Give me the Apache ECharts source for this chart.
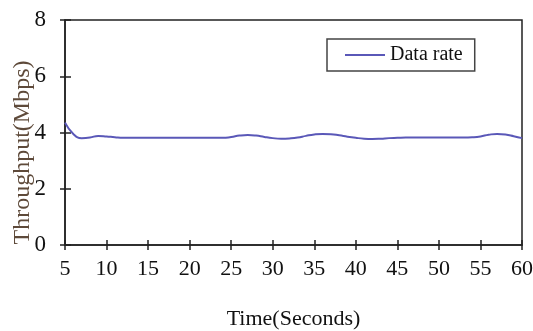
<!DOCTYPE html>
<html>
<head>
<meta charset="utf-8">
<script src="https://cdn.jsdelivr.net/npm/echarts@6/dist/echarts.min.js"></script>
<style>
  html, body { margin: 0; padding: 0; background: #fff; }
  #container { width: 533px; height: 331px; }
</style>
</head>
<body>
<div id="container"></div>
<script>
const container = document.getElementById('container');
const chartIns = echarts.init(container, undefined, { renderer: 'canvas' });

// time in seconds
const seconds = [5, 6, 7, 8, 9, 10, 11, 12, 13, 14, 15, 16, 17, 18, 19, 20,
  21, 22, 23, 24, 25, 26, 27, 28, 29, 30, 31, 32, 33, 34, 35, 36, 37, 38, 39, 40,
  41, 42, 43, 44, 45, 46, 47, 48, 49, 50, 51, 52, 53, 54, 55, 56, 57, 58, 59, 60];
// throughput in Mbps
const dataRate = [4.35, 3.95, 3.80, 3.82, 3.88, 3.86, 3.83, 3.81, 3.81, 3.81, 3.81, 3.81, 3.81, 3.81, 3.81, 3.81,
  3.81, 3.81, 3.81, 3.81, 3.84, 3.89, 3.91, 3.89, 3.84, 3.80, 3.78, 3.79, 3.82, 3.88, 3.93, 3.95, 3.94, 3.90, 3.85, 3.81,
  3.78, 3.77, 3.78, 3.80, 3.81, 3.82, 3.82, 3.82, 3.82, 3.82, 3.82, 3.82, 3.82, 3.83, 3.86, 3.92, 3.95, 3.93, 3.87, 3.80];
const xTicks = { min: 5, max: 60, interval: 5 };
const yTicks = { min: 0, max: 8, interval: 2 };

const FONT = 'Liberation Serif';
const lineData = seconds.map((s, i) => [s, dataRate[i]]);

const option = {
  animation: false,
  backgroundColor: '#fff',
  grid: {
    left: 65, right: 11, top: 20, bottom: 86,
    outerBoundsMode: 'none',
    containLabel: false,
    show: true, borderColor: '#222', borderWidth: 1.5
  },
  legend: {
    left: 327, top: 39,
    padding: [6, 12, 6, 18],
    borderColor: '#444', borderWidth: 1.5,
    itemWidth: 40, itemHeight: 2,
    textStyle: { fontFamily: FONT, fontSize: 20, color: '#111' },
    data: [{ name: 'Data rate', icon: 'rect' }]
  },
  xAxis: [{
    type: 'value',
    min: xTicks.min, max: xTicks.max, interval: xTicks.interval,
    name: 'Time(Seconds)',
    nameLocation: 'middle',
    nameGap: 63,
    nameTextStyle: { fontFamily: FONT, fontSize: 22, color: '#111' },
    axisLine: { show: true, lineStyle: { color: '#222', width: 1.5 } },
    axisTick: { show: true, length: 5, lineStyle: { color: '#222', width: 1.5 } },
    axisLabel: { fontFamily: FONT, fontSize: 22, color: '#111', margin: 13 },
    splitLine: { show: false }
  }, {
    type: 'value', position: 'bottom',
    min: xTicks.min, max: xTicks.max, interval: xTicks.interval,
    axisLine: { show: false },
    axisTick: { show: true, inside: true, length: 5, lineStyle: { color: '#222', width: 1.5 } },
    axisLabel: { show: false },
    splitLine: { show: false }
  }],
  yAxis: [{
    type: 'value',
    min: yTicks.min, max: yTicks.max, interval: yTicks.interval,
    name: 'Throughput(Mbps)',
    nameLocation: 'middle',
    nameGap: 30,
    nameMoveOverlap: false,
    nameTextStyle: { fontFamily: FONT, fontSize: 24, color: '#5e4a3a', padding: [0, 40, 0, 0] },
    axisLine: { show: true, lineStyle: { color: '#222', width: 1.5 } },
    axisTick: { show: true, length: 5, lineStyle: { color: '#222', width: 1.5 } },
    axisLabel: { fontFamily: FONT, fontSize: 23, color: '#111', margin: 19 },
    splitLine: { show: false }
  }, {
    type: 'value', position: 'left',
    min: yTicks.min, max: yTicks.max, interval: yTicks.interval,
    axisLine: { show: false },
    axisTick: { show: true, inside: true, length: 6, lineStyle: { color: '#222', width: 1.5 } },
    axisLabel: { show: false },
    splitLine: { show: false }
  }],
  series: [{
    name: 'Data rate',
    type: 'line',
    smooth: 0.5,
    symbol: 'none',
    lineStyle: { color: '#5a58b8', width: 2 },
    itemStyle: { color: '#5a58b8' },
    data: lineData
  }]
};

chartIns.setOption(option);
</script>
</body>
</html>
